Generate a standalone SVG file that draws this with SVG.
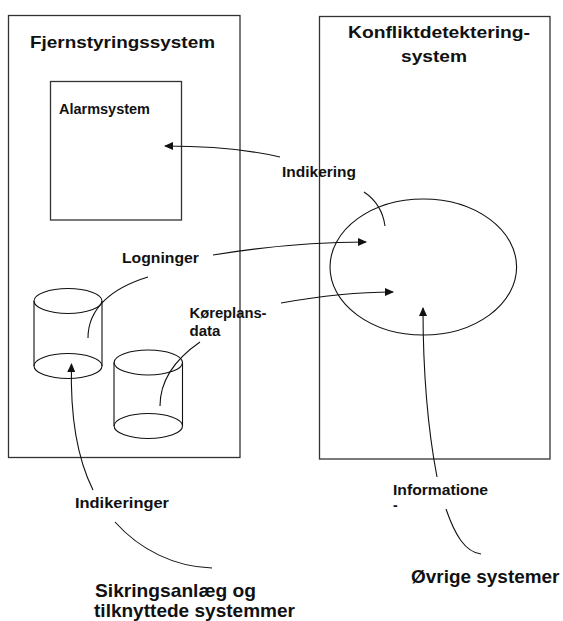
<svg xmlns="http://www.w3.org/2000/svg" width="563" height="621" viewBox="0 0 563 621">
  <style>
    .box { fill: #ffffff; stroke: #333333; stroke-width: 1.3; }
    .shape { fill: none; stroke: #111111; stroke-width: 1.1; }
    .link { fill: none; stroke: #111111; stroke-width: 1.1; }
    .title { font-family: "Liberation Sans", Arial, sans-serif; font-weight: bold; font-size: 17px; fill: #111111; }
    .label { font-family: "Liberation Sans", Arial, sans-serif; font-weight: bold; font-size: 14px; fill: #111111; }
    .ext { font-family: "Liberation Sans", Arial, sans-serif; font-weight: bold; font-size: 18.5px; fill: #111111; }
  </style>
  <defs>
    <marker id="arrow" markerWidth="9" markerHeight="8" refX="8" refY="4" orient="auto" markerUnits="userSpaceOnUse">
      <path d="M0,0 L9,4 L0,8 Z" fill="#111111"/>
    </marker>
  </defs>

  <rect width="563" height="621" fill="#ffffff"/>

  <!-- Remote control system -->
  <g id="fjernstyringssystem">
    <rect class="box" x="8.5" y="15.5" width="231.5" height="442"/>
    <text class="title" x="30" y="48" textLength="185" lengthAdjust="spacingAndGlyphs">Fjernstyringssystem</text>
  </g>

  <g id="alarmsystem">
    <rect class="box" x="50.5" y="81.5" width="131" height="138.5"/>
    <text class="label" x="59" y="114" textLength="91" lengthAdjust="spacingAndGlyphs">Alarmsystem</text>
  </g>

  <!-- Log database -->
  <g id="logdatabase">
    <path class="shape" d="M34,301 L34,366 M102,301 L102,366"/>
    <ellipse class="shape" cx="68" cy="301" rx="34" ry="12.5"/>
    <ellipse class="shape" cx="68" cy="366" rx="34" ry="12.5"/>
  </g>

  <!-- Timetable database -->
  <g id="koereplansdatabase">
    <path class="shape" d="M114,362.5 L114,426 M182.5,362.5 L182.5,426"/>
    <ellipse class="shape" cx="148.3" cy="362.5" rx="34.2" ry="12.5"/>
    <ellipse class="shape" cx="148.3" cy="426" rx="34.2" ry="12.5"/>
  </g>

  <!-- Conflict detection system -->
  <g id="konfliktdetekteringssystem">
    <rect class="box" x="319.5" y="16.5" width="230.5" height="442.5"/>
    <text class="title" x="348" y="38" textLength="182" lengthAdjust="spacingAndGlyphs">Konfliktdetektering-</text>
    <text class="title" x="401" y="62" textLength="66" lengthAdjust="spacingAndGlyphs">system</text>
    <ellipse class="shape" cx="423.3" cy="267" rx="93.3" ry="68"/>
  </g>

  <!-- External systems -->
  <g id="sikringsanlaeg">
    <text class="ext" x="95" y="597" textLength="161" lengthAdjust="spacingAndGlyphs">Sikringsanlæg og</text>
    <text class="ext" x="94" y="617" textLength="201" lengthAdjust="spacingAndGlyphs">tilknyttede systemmer</text>
  </g>

  <g id="oevrige-systemer">
    <text class="ext" x="411" y="583" textLength="148.5" lengthAdjust="spacingAndGlyphs">Øvrige systemer</text>
  </g>

  <!-- Connectors with their labels -->
  <g id="connectors">
    <!-- Indikering: conflict detection -> alarm system -->
    <path class="link" d="M385,226 Q382,204 364,192"/>
    <path class="link" d="M280,157 Q232,146 165,146" marker-end="url(#arrow)"/>
    <text class="label" x="282" y="176.5" textLength="74" lengthAdjust="spacingAndGlyphs">Indikering</text>

    <!-- Logninger: log database -> conflict detection -->
    <path class="link" d="M88,338 C88,308 112,288 148,277"/>
    <path class="link" d="M213,255 C262,247 310,242 366,242" marker-end="url(#arrow)"/>
    <text class="label" x="122" y="262.5" textLength="77" lengthAdjust="spacingAndGlyphs">Logninger</text>

    <!-- Køreplansdata: timetable database -> conflict detection -->
    <path class="link" d="M160,406 C160,380 174,360 200,342"/>
    <path class="link" d="M281,303 C320,296 352,292 393,292" marker-end="url(#arrow)"/>
    <text class="label" x="189.5" y="317.5" textLength="77" lengthAdjust="spacingAndGlyphs">Køreplans-</text>
    <text class="label" x="189.5" y="335.5" textLength="31" lengthAdjust="spacingAndGlyphs">data</text>

    <!-- Indikeringer: interlocking -> log database -->
    <path class="link" d="M212,568 C175,567 140,550 115,522"/>
    <path class="link" d="M93,490 C78,460 70,420 71.5,364" marker-end="url(#arrow)"/>
    <text class="label" x="75" y="507.5" textLength="94" lengthAdjust="spacingAndGlyphs">Indikeringer</text>

    <!-- Informationer: other systems -> conflict detection -->
    <path class="link" d="M481,554 C465,552 455,535 446,509"/>
    <path class="link" d="M437,477 C428,430 423,370 423,308" marker-end="url(#arrow)"/>
    <text class="label" x="393" y="495" textLength="95" lengthAdjust="spacingAndGlyphs">Informatione</text>
    <text class="label" x="393" y="510">-</text>
  </g>
</svg>
